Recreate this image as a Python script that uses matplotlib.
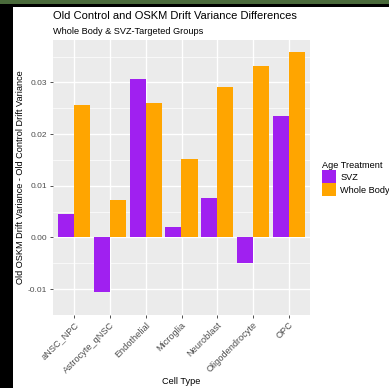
import matplotlib
matplotlib.use("Agg")
import matplotlib.pyplot as plt
from matplotlib.patches import Rectangle, Patch
import numpy as np

plt.rcParams['font.family'] = ['Liberation Sans', 'DejaVu Sans']

cell_types = ["aNSC_NPC", "Astrocyte_qNSC", "Endothelial", "Microglia",
              "Neuroblast", "Oligodendrocyte", "OPC"]
svz = [0.0045, -0.0106, 0.0307, 0.0021, 0.0077, -0.0049, 0.0236]
whole_body = [0.0256, 0.0073, 0.0260, 0.0151, 0.0291, 0.0332, 0.0359]
groups = ["SVZ", "Whole Body"]
colors = {"SVZ": "#A020F0", "Whole Body": "#FFA500"}
y_ticks = [-0.01, 0.00, 0.01, 0.02, 0.03]

W, H = 389, 388
fig = plt.figure(figsize=(W / 100, H / 100), dpi=100)
fig.patch.set_facecolor("white")

# frame strips around the figure
fig.patches.append(Rectangle((0, 1 - 4 / H), 1, 4 / H, transform=fig.transFigure,
                             facecolor="#4A6A3B", edgecolor="none", zorder=0))
fig.patches.append(Rectangle((0, 1 - 7 / H), 1, 3 / H, transform=fig.transFigure,
                             facecolor="black", edgecolor="none", zorder=0))
fig.patches.append(Rectangle((0, 0), 13 / W, 1 - 4 / H, transform=fig.transFigure,
                             facecolor="black", edgecolor="none", zorder=0))

L, R, T, B = 53, 310, 40, 315
ax = fig.add_axes([L / W, 1 - B / H, (R - L) / W, (B - T) / H])
ax.set_facecolor("#EBEBEB")

x = np.arange(1, len(cell_types) + 1)
bw = 0.45
ax.bar(x - bw / 2, svz, width=bw, color=colors["SVZ"], zorder=3)
ax.bar(x + bw / 2, whole_body, width=bw, color=colors["Whole Body"], zorder=3)

vals = svz + whole_body
lo, hi = min(min(vals), 0), max(vals)
pad = (hi - lo) * 0.05
ax.set_ylim(lo - pad, hi + pad)
ax.set_xlim(0.4, len(cell_types) + 0.6)

ax.set_yticks(y_ticks)
ax.set_yticklabels([f"{v:.2f}" for v in y_ticks])
ax.set_yticks(np.arange(-0.015, 0.04, 0.01), minor=True)
ax.set_xticks(x)
ax.set_xticklabels(cell_types, rotation=45, ha="right", rotation_mode="anchor")

ax.grid(True, which="major", color="white", linewidth=1.0, zorder=0)
ax.grid(True, which="minor", axis="y", color="white", linewidth=0.5, zorder=0)
ax.set_axisbelow(True)
for s in ax.spines.values():
    s.set_visible(False)
ax.tick_params(axis="both", which="major", length=2.5, width=0.6, color="#333333",
               labelcolor="#4D4D4D", pad=1.5)
ax.tick_params(axis="y", which="major", labelsize=6.0)
ax.tick_params(axis="x", which="major", labelsize=6.6)
ax.tick_params(axis="both", which="minor", length=0)

ax.set_ylabel("Old OSKM Drift Variance - Old Control Drift Variance", fontsize=6.6, labelpad=2)
fig.text((L + R) / 2 / W, 1 - 382 / H, "Cell Type", fontsize=6.6, ha="center", va="center")

fig.text(L / W, 1 - 16 / H, "Old Control and OSKM Drift Variance Differences",
         fontsize=8.0, ha="left", va="center")
fig.text(L / W, 1 - 32 / H, "Whole Body & SVZ-Targeted Groups",
         fontsize=6.6, ha="left", va="center")

handles = [Patch(facecolor=colors[g], edgecolor="none", label=g) for g in groups]
leg = fig.legend(handles=handles, title="Age Treatment", loc="upper left",
                 bbox_to_anchor=(315 / W, 1 - 154 / H), frameon=False,
                 fontsize=6.6, title_fontsize=6.6, handlelength=1.45, handleheight=1.8,
                 handletextpad=0.5, labelspacing=0.0, borderpad=0.3)
leg._legend_box.align = "left"

fig.savefig("out.png", dpi=100)
